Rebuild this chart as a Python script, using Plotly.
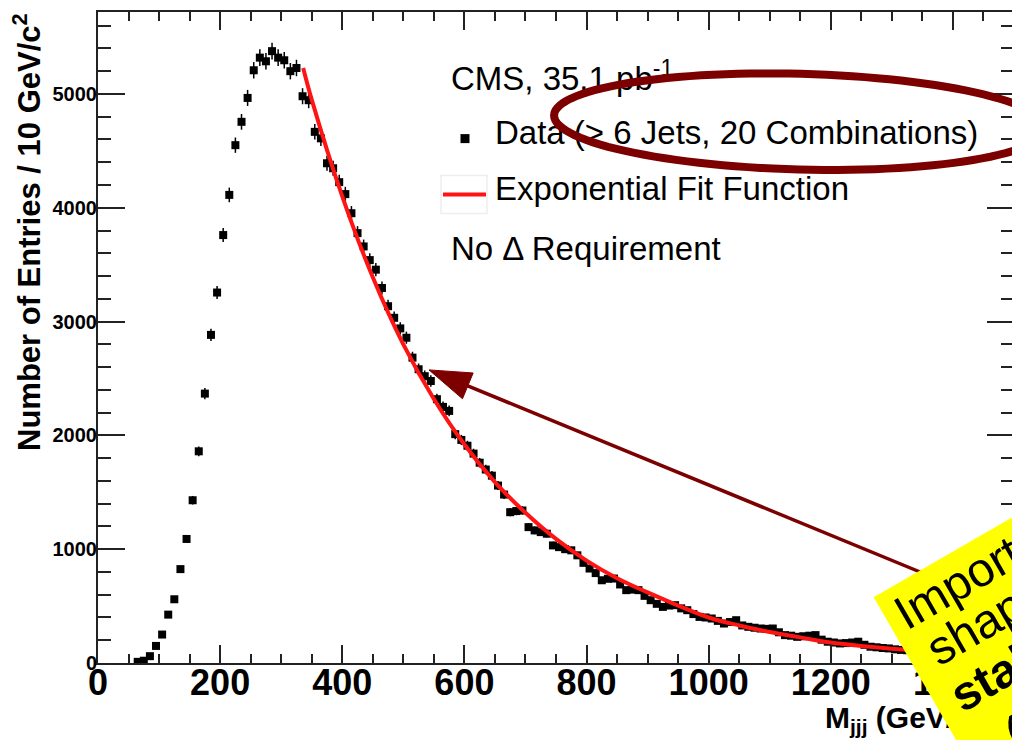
import math
import plotly.graph_objects as go

# ---------------- data ----------------
mass = list(range(65, 1400, 10))  # bin centres, GeV/c^2
entries = [
    10, 20, 60, 150, 250, 425, 560, 825, 1090, 1430,
    1860, 2367, 2883, 3255, 3760, 4113, 4550, 4755, 4965, 5208,
    5319, 5287, 5376, 5319, 5296, 5200, 5228, 4980, 4945, 4667,
    4610, 4391, 4347, 4225, 4120, 3952, 3777, 3660, 3540, 3456,
    3295, 3135, 3033, 2940, 2858, 2683, 2581, 2520, 2478, 2318,
    2250, 2215, 2011, 1960, 1909, 1840, 1760, 1700, 1646, 1559,
    1480, 1325, 1335, 1340, 1194, 1165, 1150, 1136, 1033, 1018,
    1000, 990, 946, 880, 830, 790, 727, 740, 742, 690,
    640, 645, 640, 590, 552, 520, 493, 505, 508, 480,
    464, 430, 405, 400, 391, 370, 347, 360, 376, 330,
    318, 310, 303, 300, 303, 270, 245, 240, 230, 235,
    240, 245, 205, 187, 180, 172, 175, 180, 187, 160,
    143, 138, 132, 128, 120, 115, 112, 105, 100, 98,
    92, 88, 85, 80,
]
errors = [math.sqrt(v) for v in entries]

fit_mass = [336, 350, 400, 450, 500, 550, 600, 650, 700, 750, 800, 850,
            900, 950, 1000, 1050, 1100, 1150, 1200, 1250, 1300, 1350, 1400]
fit_vals = [5228, 4950, 4100, 3390, 2800, 2320, 1920, 1590, 1320, 1090, 900, 745,
            620, 505, 400, 330, 272, 225, 180, 150, 125, 105, 88]

x_ticks = [0, 200, 400, 600, 800, 1000, 1200, 1400]
y_ticks = [0, 1000, 2000, 3000, 4000, 5000]

# ---------------- geometry helpers (screen pixels) ----------------
FW, FH = 1020, 740
OFF = 8                      # page body margin offset of the figure
PL, PT, PR, PB = 98, 10, 1014, 663   # plot area on screen
PW, PH = PR - PL, PB - PT
XMAX, YMAX = 1500, 5720


def pxp(px, py):
    """screen pixel -> paper"""
    return (px - PL) / PW, 1 - (py - PT) / PH


def pxd(px, py):
    """screen pixel -> data"""
    return (px - PL) / PW * XMAX, (PB - py) / PH * YMAX


FONT = "Liberation Sans"
DARKRED = "#7d0000"

fig = go.Figure()

# data points
fig.add_trace(go.Scatter(
    x=mass, y=entries, mode="markers",
    marker=dict(symbol="square", size=8, color="black"),
    error_y=dict(type="data", array=errors, color="black", thickness=1.5, width=0),
    hoverinfo="x+y",
))
# fit
fig.add_trace(go.Scatter(
    x=fit_mass, y=fit_vals, mode="lines",
    line=dict(color="#ff1414", width=4, shape="spline"),
))

# legend texts (as text trace so the ellipse can overlay them)
leg_px = [(451, 80), (495, 134), (495, 190), (451, 250)]
leg_txt = ["CMS, 35.1 pb<sup>-1</sup>",
           "Data (> 6 Jets, 20 Combinations)",
           "Exponential Fit Function",
           "No Δ Requirement"]
lx, ly = zip(*[pxd(*p) for p in leg_px])
fig.add_trace(go.Scatter(
    x=list(lx), y=list(ly), mode="text", text=leg_txt,
    textposition="middle right",
    textfont=dict(family=FONT, size=33, color="black"),
    hoverinfo="skip",
))
# legend marker for data
mx, my = pxd(465, 137)
fig.add_trace(go.Scatter(
    x=[mx], y=[my], mode="markers",
    marker=dict(symbol="square", size=9, color="black"), hoverinfo="skip",
))

shapes = []
# legend box + red line sample for the fit
x0, y0 = pxp(441, 174)
x1, y1 = pxp(487, 212)
shapes.append(dict(type="rect", xref="paper", yref="paper", x0=x0, y0=y0, x1=x1, y1=y1,
                   line=dict(color="#eeeeee", width=1.5), layer="above"))
x0, y0 = pxp(443, 193)
x1, y1 = pxp(486, 193)
shapes.append(dict(type="line", xref="paper", yref="paper", x0=x0, y0=y0, x1=x1, y1=y1,
                   line=dict(color="#ff1414", width=4), layer="above"))

# ellipse around legend entry
cx, cy, ra, rb, tilt = 800, 120, 246, 48, math.radians(1.5)
pts = []
for k in range(121):
    t = 2 * math.pi * k / 120
    ex = ra * math.cos(t)
    ey = rb * math.sin(t)
    X = cx + ex * math.cos(tilt) - ey * math.sin(tilt)
    Y = cy + ex * math.sin(tilt) + ey * math.cos(tilt)
    pts.append(pxp(X, Y))
path = "M " + " L ".join(f"{a:.5f},{b:.5f}" for a, b in pts) + " Z"
shapes.append(dict(type="path", xref="paper", yref="paper", path=path,
                   line=dict(color=DARKRED, width=8), layer="above"))

# arrow
tip = (429, 369)
tail = (945, 582)
dxv, dyv = tail[0] - tip[0], tail[1] - tip[1]
nrm = math.hypot(dxv, dyv)
ux, uy = dxv / nrm, dyv / nrm
hl, hw = 42, 14
base = (tip[0] + hl * ux, tip[1] + hl * uy)
b1 = (base[0] - hw * uy, base[1] + hw * ux)
b2 = (base[0] + hw * uy, base[1] - hw * ux)
s0 = pxp(base[0] - 4 * ux, base[1] - 4 * uy)
s1 = pxp(*tail)
shapes.append(dict(type="line", xref="paper", yref="paper", x0=s0[0], y0=s0[1], x1=s1[0], y1=s1[1],
                   line=dict(color=DARKRED, width=3.5), layer="above"))
tri = [pxp(*tip), pxp(*b1), pxp(*b2)]
shapes.append(dict(type="path", xref="paper", yref="paper",
                   path="M " + " L ".join(f"{a:.5f},{b:.5f}" for a, b in tri) + " Z",
                   fillcolor=DARKRED, line=dict(color=DARKRED, width=1), layer="above"))

annotations = []
# y title (aligned to the top like ROOT)
ax_, _ = pxp(27, PT)
annotations.append(dict(
    xref="paper", yref="paper", x=ax_, y=1.0, xanchor="center", yanchor="top",
    text="<b>Number of Entries / 10 GeV/c<sup>2</sup></b>", textangle=-90,
    showarrow=False, font=dict(family=FONT, size=31, color="black"), borderpad=0,
))
# x title
tx, ty = pxp(824, 717)
annotations.append(dict(
    xref="paper", yref="paper", x=tx, y=ty, xanchor="left", yanchor="middle",
    text="<b>M<sub>jjj</sub> (GeV/c<sup>2</sup>)</b>",
    showarrow=False, font=dict(family=FONT, size=30, color="black"), borderpad=0,
))

# yellow rotated note box
ang = math.radians(30)
u = (math.cos(ang), -math.sin(ang))      # along text
d = (math.sin(ang), math.cos(ang))       # down, perpendicular to text
TL = (874, 597)
BW, BH = 420, 330
bcx = TL[0] + BW / 2 * u[0] + BH / 2 * d[0]
bcy = TL[1] + BW / 2 * u[1] + BH / 2 * d[1]
bx, by = pxp(bcx, bcy)
annotations.append(dict(
    xref="paper", yref="paper", x=bx, y=by, xanchor="center", yanchor="middle",
    text=" ", textangle=-30, width=BW, height=BH, bgcolor="#ffff00",
    borderpad=0, borderwidth=0, showarrow=False,
    font=dict(family=FONT, size=10, color="#ffff00"),
))
# note text, one line at a time (baseline start points on screen)
note_lines = ["Important:", "shape", "<b>stable</b>", "(Δ cut)"]
note_starts = [(906, 630), (938, 666), (962, 713), (1016, 752)]
NFS = 48
LW = 380
for txt, (sx, sy) in zip(note_lines, note_starts):
    # left-middle of the line box: baseline start moved up by ~0.33 em
    lmx = sx - 0.33 * NFS * d[0]
    lmy = sy - 0.33 * NFS * d[1]
    ccx = lmx + LW / 2 * u[0]
    ccy = lmy + LW / 2 * u[1]
    px_, py_ = pxp(ccx, ccy)
    annotations.append(dict(
        xref="paper", yref="paper", x=px_, y=py_, xanchor="center", yanchor="middle",
        text=txt, textangle=-30, width=LW, height=int(NFS * 1.3), align="left",
        valign="middle", borderpad=0, borderwidth=0, showarrow=False,
        font=dict(family=FONT, size=NFS, color="black"),
    ))

axis_common = dict(
    showline=True, linewidth=2, linecolor="#222222", mirror="allticks",
    ticks="inside", tickwidth=2, tickcolor="#222222",
    showgrid=False, zeroline=False,
)
fig.update_layout(
    width=FW, height=FH,
    margin=dict(l=PL - OFF, r=FW - (PR - OFF), t=PT - OFF, b=FH - (PB - OFF), pad=0),
    paper_bgcolor="white", plot_bgcolor="white",
    showlegend=False,
    xaxis=dict(range=[0, XMAX], tickvals=x_ticks, ticklen=18, ticklabelstandoff=-13,
               tickfont=dict(family=FONT, size=36, color="black", weight="bold"),
               minor=dict(dtick=50, tick0=0, ticks="inside", ticklen=9, tickwidth=2,
                          tickcolor="#222222", showgrid=False),
               **axis_common),
    yaxis=dict(range=[0, YMAX], tickvals=y_ticks, ticklen=27, ticklabelstandoff=-5,
               tickfont=dict(family=FONT, size=20, color="black", weight="bold"),
               minor=dict(dtick=200, tick0=0, ticks="inside", ticklen=13, tickwidth=2,
                          tickcolor="#222222", showgrid=False),
               **axis_common),
    shapes=shapes,
    annotations=annotations,
)

fig.write_html("out.html")
